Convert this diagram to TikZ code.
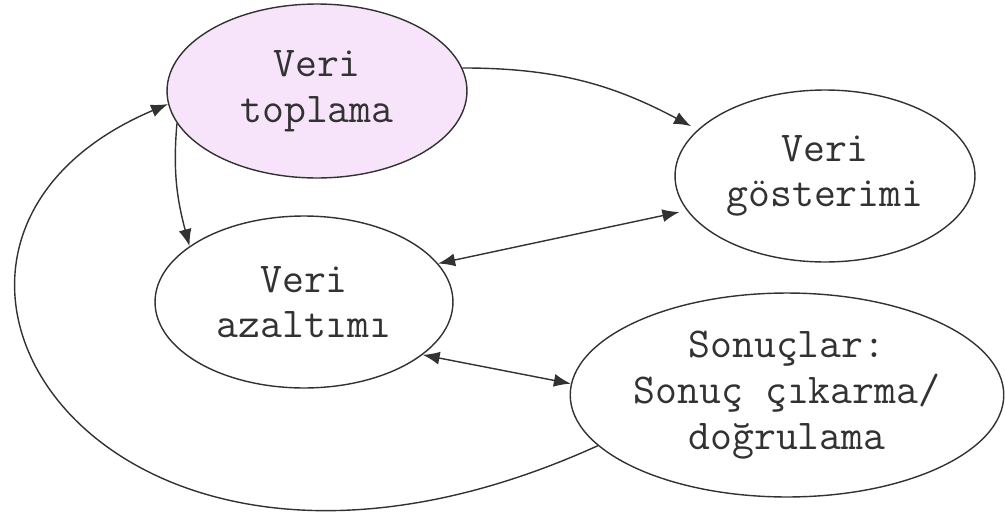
\documentclass[tikz,border=0pt]{standalone}
\usepackage{fontspec}
\usepackage{xcolor}
\usetikzlibrary{
  arrows.meta,
  shapes.geometric,
  positioning}
\definecolor{lilac}{RGB}{247,228,250}
\definecolor{ink}{RGB}{50,50,50}
\tikzset{
  phase/.style={%
    shape=ellipse,
    draw=ink,
    inner sep=0pt,
    align=center,
    text=ink,
    font=\ttfamily\fontsize{24.2}{26}\selectfont
  },
  arrowX/.style={%
    {Latex[length=3.4mm,width=2.6mm]}-{Latex[length=3.4mm,width=2.6mm]}
  },
  arrowR/.style={%
    -{Latex[length=3.4mm,width=2.6mm]}
  }%
}

\begin{document}
\begin{tikzpicture}[x=0.02cm,y=-0.02cm,line width=0.8pt,draw=ink]

% Frame of the picture, in pixels of the reference.
\useasboundingbox (0,0) rectangle (1005,511);

\node[phase, fill=lilac, minimum width=6cm, minimum height=3.48cm]
  (toplama) at (317,91) {Veri\\toplama};
\node[phase, minimum width=6cm, minimum height=3.44cm]
  (gosterim) at (825,176) {Veri\\gösterimi};
\node[phase, minimum width=5.96cm, minimum height=3.44cm]
  (azaltim) at (304,302) {Veri\\azaltımı};
\node[phase, minimum width=8.6cm, minimum height=4.08cm]
  (sonuc) at (787,395) {Sonuçlar:\\Sonuç çıkarma/\\doğrulama};

\draw[arrowR, shorten >=1.5mm] (toplama.9) to[out=0, in=152] (gosterim.160);
\draw[arrowR] (toplama.193) to[out=265, in=105] (azaltim.154);
\draw[arrowX, shorten >=1.5mm] (azaltim.16)--(gosterim.194);
\draw[arrowX] (azaltim.-24)--(sonuc.177);
% Feedback loop round the left side.
\draw[arrowR] (sonuc.195) .. controls (99,672) and (-165,245) .. (toplama.185);

\end{tikzpicture}
\end{document}
